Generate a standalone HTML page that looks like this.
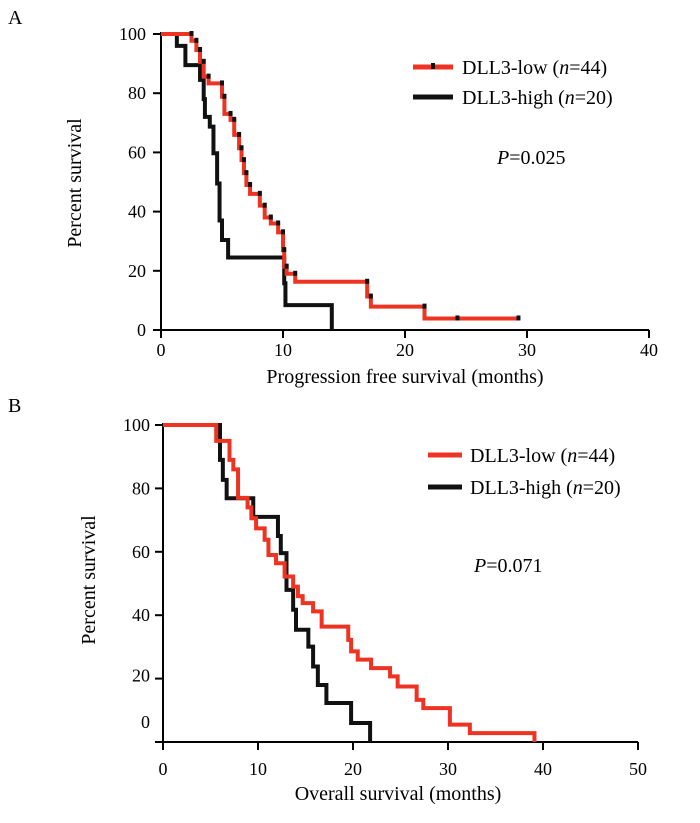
<!DOCTYPE html>
<html><head><meta charset="utf-8">
<style>
body{margin:0;background:#fff;}
svg text{font-family:"Liberation Serif",serif;fill:#000;}
</style></head>
<body>
<svg id="chart" width="700" height="818" xmlns="http://www.w3.org/2000/svg">
<text x="8" y="24" font-size="20">A</text>
<text x="8" y="412" font-size="20">B</text>
<g id="pa"></g>
<g id="pb"></g>
</svg>
<script>
// Panel A data
const aXTicks=[0,10,20,30,40];
const aYTicks=[0,20,40,60,80,100];
const aLowT=[0,2.5,2.9,3.2,3.5,3.9,5.0,5.2,5.7,6.0,6.4,6.6,6.8,7.0,7.3,8.1,8.5,9.0,9.6,10.0,10.1,10.3,11.0,16.9,17.2,21.6,24.3,29.3];
const aLowS=[100,97.7,94.6,90.6,85.6,83.3,78.8,73,71,65.9,61.4,57.4,53,49,46,42,38,36,33,27,21.4,19,16.3,11.3,7.9,3.9,3.9,3.9];
const aHighT=[0,1.3,2.0,3.2,3.5,3.6,4.0,4.3,4.6,4.8,5.0,5.5,6.2,10.1,10.2,14.0];
const aHighS=[100,96,89.5,84.5,78,72,68.7,59.7,49.5,37,30.4,24.5,24.5,15.8,8.4,0];
// Panel B data
const bXTicks=[0,10,20,30,40,50];
const bYTicks=[0,20,40,60,80,100];
const bLowT=[0,5.6,7.0,7.4,7.9,8.9,9.3,9.8,10.7,11.1,11.9,12.8,13.7,14.2,14.7,15.8,16.7,19.5,19.8,20.5,21.9,23.9,24.7,26.7,27.4,30.2,32.3,34.9,39.1];
const bLowS=[100,95,89,86,77,74,70.6,67.4,63.8,59,56.4,52.2,49,46,43.8,41.2,36.4,32.2,28.6,26,23.3,20.7,17.5,13.3,10.7,5.5,2.8,2.8,0];
const bHighT=[0,6.0,6.3,6.7,9.5,12.1,12.4,13.0,13.7,14.0,15.3,15.8,16.3,17.2,19.8,21.8];
const bHighS=[100,89,82.7,76.9,71,65,59.6,48,41.7,35.4,30.1,23.8,18,12.3,6,0];

const NS="http://www.w3.org/2000/svg";
function mk(parent,tag,attrs,text){const e=document.createElementNS(NS,tag);for(const k in attrs)e.setAttribute(k,attrs[k]);if(text!==undefined)e.textContent=text;parent.appendChild(e);return e;}

function panel(g,cfg){
  const X=t=>cfg.x0+(t-0)*(cfg.x1-cfg.x0)/cfg.xmax;
  const Y=s=>cfg.y0+(100-s)*(cfg.yb-cfg.y0)/100;
  const ya=mk(g,'line',{x1:X(0),y1:Y(100)-2,x2:X(0),y2:Y(0),stroke:'#000','stroke-width':2});
  
  
  const xa=mk(g,'line',{x1:X(0),y1:Y(0),x2:X(cfg.xTicks[cfg.xTicks.length-1]),y2:Y(0),stroke:'#000','stroke-width':2});
  
  
  cfg.xTicks.forEach(v=>{
    const l=mk(g,'line',{x1:X(v),y1:Y(0),x2:X(v),y2:Y(0)+8,stroke:'#000','stroke-width':2});
    
    
    const t=mk(g,'text',{x:X(v),y:Y(0)+cfg.xlabDy,'font-size':18,'text-anchor':'middle'},String(v));
    
    
  });
  cfg.yTicks.forEach((v,i)=>{
    const l=mk(g,'line',{x1:X(0)-8,y1:Y(v),x2:X(0),y2:Y(v),stroke:'#000','stroke-width':2});
    
    
    const t=mk(g,'text',{x:cfg.ylabX,y:Y(v)+6+(cfg.ylabDy?cfg.ylabDy[i]:0),'font-size':18,'text-anchor':'end'},String(v));
    
    
  });
  function step(T,S,color,name,marks){
    let d='M'+X(T[0])+','+Y(S[0]);
    for(let i=1;i<T.length;i++){d+=' H'+X(T[i])+' V'+Y(S[i]);}
    const p=mk(g,'path',{d:d,fill:'none',stroke:color,'stroke-width':4,'stroke-linejoin':'miter'});
    
    
    if(marks){for(let i=1;i<T.length;i++){const r=mk(g,'rect',{x:X(T[i])-2,y:Y(S[i-1])-3,width:4,height:5,fill:'#111'});
      
      }}
  }
  step(cfg.hT,cfg.hS,'#111','dll3-high-curve',false);
  step(cfg.lT,cfg.lS,'#ee3322','dll3-low-curve',cfg.marks);
}
panel(document.getElementById('pa'),{x0:161,x1:649,xmax:40,y0:34,yb:330,xTicks:aXTicks,yTicks:aYTicks,xlabDy:26,ylabX:146,lT:aLowT,lS:aLowS,hT:aHighT,hS:aHighS,marks:true});
panel(document.getElementById('pb'),{x0:163,x1:638,xmax:50,y0:425,yb:742,xTicks:bXTicks,yTicks:bYTicks,xlabDy:33,ylabX:150,ylabDy:[-20,-3,0,0,0,0],lT:bLowT,lS:bLowS,hT:bHighT,hS:bHighS,marks:false});
</script>
<svg width="700" height="818" style="position:absolute;left:0;top:0" xmlns="http://www.w3.org/2000/svg">
<text transform="translate(81,183) rotate(-90)" font-size="20" text-anchor="middle">Percent survival</text>
<text x="405" y="383" font-size="20" text-anchor="middle">Progression free survival (months)</text>
<line x1="413" y1="67" x2="453" y2="67" stroke="#ee3322" stroke-width="5"/>
<rect x="431" y="63" width="4" height="6" fill="#111"/>
<text x="462" y="74" font-size="20">DLL3-low (<tspan font-style="italic">n</tspan>=44)</text>
<line x1="413" y1="97" x2="453" y2="97" stroke="#111" stroke-width="5"/>
<text x="462" y="104" font-size="20">DLL3-high (<tspan font-style="italic">n</tspan>=20)</text>
<text x="497" y="164" font-size="20"><tspan font-style="italic">P</tspan>=0.025</text>
<text transform="translate(95,580) rotate(-90)" font-size="20" text-anchor="middle">Percent survival</text>
<text x="398" y="800" font-size="20" text-anchor="middle">Overall survival (months)</text>
<line x1="428" y1="455" x2="462" y2="455" stroke="#ee3322" stroke-width="5"/>
<text x="470" y="462" font-size="20">DLL3-low (<tspan font-style="italic">n</tspan>=44)</text>
<line x1="428" y1="487" x2="462" y2="487" stroke="#111" stroke-width="5"/>
<text x="470" y="494" font-size="20">DLL3-high (<tspan font-style="italic">n</tspan>=20)</text>
<text x="474" y="572" font-size="20"><tspan font-style="italic">P</tspan>=0.071</text>
</svg>
</body></html>
